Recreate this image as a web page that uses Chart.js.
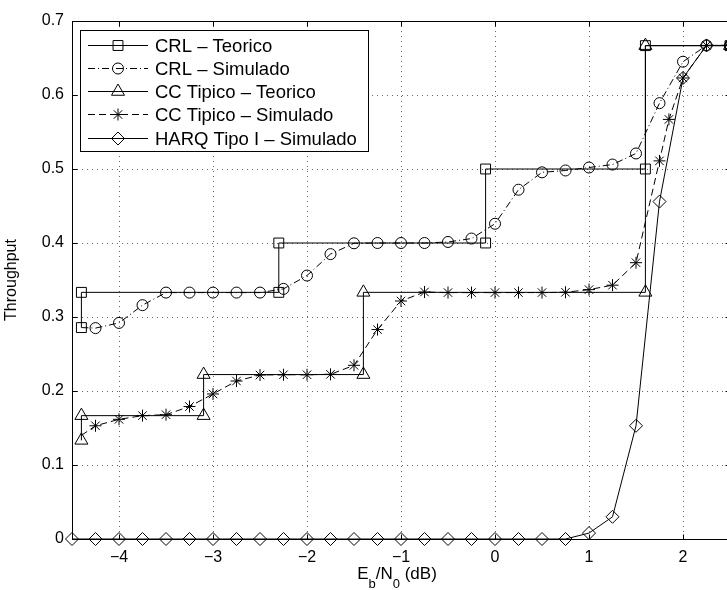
<!DOCTYPE html>
<html>
<head>
<meta charset="utf-8">
<script src="https://cdn.jsdelivr.net/npm/chart.js@4.4.1/dist/chart.umd.min.js"></script>
<style>
html, body { margin: 0; padding: 0; overflow: hidden; background: #fff; }
#wrap { width: 740px; height: 590px; }
</style>
</head>
<body>
<div id="wrap"><canvas id="chart" width="740" height="590"></canvas></div>
<script>
// Datos
const crlTeoX = [-4.4, -4.4, -2.3, -2.3, -0.1, -0.1, 1.6, 1.6, 2.5];
const crlTeoY = [0.2857, 0.3333, 0.3333, 0.4, 0.4, 0.5, 0.5, 0.6667, 0.6667];

const ccTeoX = [-4.4, -4.4, -3.1, -3.1, -1.4, -1.4, 1.6, 1.6, 2.5];
const ccTeoY = [0.1333, 0.1667, 0.1667, 0.2222, 0.2222, 0.3333, 0.3333, 0.6667, 0.6667];

const crlSimX = [-4.4, -4.25, -4.0, -3.75, -3.5, -3.25, -3.0, -2.75, -2.5, -2.25, -2.0, -1.75, -1.5, -1.25,
  -1.0, -0.75, -0.5, -0.25, 0, 0.25, 0.5, 0.75, 1.0, 1.25, 1.5, 1.75, 2.0, 2.25, 2.5];
const crlSimY = [0.2857, 0.285, 0.292, 0.316, 0.333, 0.333, 0.333, 0.333, 0.333, 0.338, 0.356, 0.385, 0.3996, 0.4,
  0.4, 0.4, 0.4014, 0.406, 0.426, 0.472, 0.4955, 0.498, 0.502, 0.506, 0.521, 0.589, 0.645, 0.667, 0.667];

const ccSimX = [-4.4, -4.25, -4.0, -3.75, -3.5, -3.25, -3.0, -2.75, -2.5, -2.25, -2.0, -1.75, -1.5, -1.25,
  -1.0, -0.75, -0.5, -0.25, 0, 0.25, 0.5, 0.75, 1.0, 1.25, 1.5, 1.75, 1.85, 2.0, 2.25, 2.5];
const ccSimY = [0.14, 0.153, 0.1617, 0.1667, 0.168, 0.179, 0.196, 0.2135, 0.2216, 0.222, 0.222, 0.2225, 0.2347, 0.283,
  0.3216, 0.3338, 0.333, 0.333, 0.333, 0.333, 0.333, 0.3334, 0.337, 0.343, 0.3734, 0.511, 0.567, 0.623, 0.667, 0.667];

const harqX = [-4.5, -4.25, -4.0, -3.75, -3.5, -3.25, -3.0, -2.75, -2.5, -2.25, -2.0, -1.75, -1.5, -1.25,
  -1.0, -0.75, -0.5, -0.25, 0, 0.25, 0.5, 0.75, 1.0, 1.25, 1.5, 1.75, 2.0, 2.25, 2.5];
const harqY = [0, 0, 0, 0, 0, 0, 0, 0, 0, 0, 0, 0, 0, 0,
  0, 0, 0, 0, 0, 0, 0, 0, 0.008, 0.03, 0.153, 0.456, 0.623, 0.667, 0.667];

const seriesNames = ['CRL \u2013 Teorico', 'CRL \u2013 Simulado', 'CC Tipico \u2013 Teorico', 'CC Tipico \u2013 Simulado', 'HARQ Tipo I \u2013 Simulado'];
const xTickValues = [-4, -3, -2, -1, 0, 1, 2];
const yTickValues = [0, 0.1, 0.2, 0.3, 0.4, 0.5, 0.6, 0.7];

const FONT = "'Liberation Sans', Arial, Helvetica, sans-serif";

function toPoints(xs, ys) {
  return xs.map((x, i) => ({ x: x, y: ys[i] }));
}

// radio 0 en el primer punto de las curvas simuladas (queda bajo el marcador teorico)
function hideFirst(r) {
  return ctx => ctx.dataIndex === 0 ? 0 : r;
}

const datasets = [
  { label: seriesNames[0], data: toPoints(crlTeoX, crlTeoY), pointStyle: 'rect', pointRadius: 7, dash: [] },
  { label: seriesNames[1], data: toPoints(crlSimX, crlSimY), pointStyle: 'circle', pointRadius: hideFirst(5.5), legendRadius: 5.5, dash: [7, 3, 1, 3] },
  { label: seriesNames[2], data: toPoints(ccTeoX, ccTeoY), pointStyle: 'triangle', pointRadius: 7.5, dash: [] },
  { label: seriesNames[3], data: toPoints(ccSimX, ccSimY), pointStyle: 'star', pointRadius: hideFirst(6), legendRadius: 6, dash: [7, 4] },
  { label: seriesNames[4], data: toPoints(harqX, harqY), pointStyle: 'rectRot', pointRadius: 6.5, dash: [] }
].map(d => Object.assign({
  showLine: true,
  borderColor: '#000',
  borderWidth: 1,
  borderDash: d.dash,
  pointBorderColor: '#000',
  pointBackgroundColor: 'rgba(0,0,0,0)',
  pointBorderWidth: 1,
  clip: false
}, d));

// Marco, rejilla punteada y marcas hacia dentro
const framePlugin = {
  id: 'frame',
  beforeDatasetsDraw(chart) {
    const ctx = chart.ctx, a = chart.chartArea;
    const xs = chart.scales.x, ys = chart.scales.y;
    ctx.save();
    ctx.lineWidth = 1;
    ctx.strokeStyle = '#666';
    ctx.setLineDash([1, 4]);
    xTickValues.forEach(v => {
      const px = Math.round(xs.getPixelForValue(v)) + 0.5;
      ctx.beginPath(); ctx.moveTo(px, a.top); ctx.lineTo(px, a.bottom); ctx.stroke();
    });
    yTickValues.forEach(v => {
      if (v === 0 || v === 0.7) return;
      const py = Math.round(ys.getPixelForValue(v)) + 0.5;
      ctx.beginPath(); ctx.moveTo(a.left, py); ctx.lineTo(a.right, py); ctx.stroke();
    });
    ctx.setLineDash([]);
    ctx.strokeStyle = '#000';
    const L = Math.round(a.left) + 0.5, R = Math.round(a.right) + 0.5;
    const T = Math.round(a.top) + 0.5, B = Math.round(a.bottom) + 0.5;
    ctx.strokeRect(L, T, R - L, B - T);
    const tl = 5;
    xTickValues.forEach(v => {
      const px = Math.round(xs.getPixelForValue(v)) + 0.5;
      ctx.beginPath();
      ctx.moveTo(px, B); ctx.lineTo(px, B - tl);
      ctx.moveTo(px, T); ctx.lineTo(px, T + tl);
      ctx.stroke();
    });
    yTickValues.forEach(v => {
      const py = Math.round(ys.getPixelForValue(v)) + 0.5;
      ctx.beginPath();
      ctx.moveTo(L, py); ctx.lineTo(L + tl, py);
      ctx.moveTo(R, py); ctx.lineTo(R - tl, py);
      ctx.stroke();
    });
    ctx.restore();
  },
  afterDraw(chart) {
    const ctx = chart.ctx, a = chart.chartArea;
    ctx.save();
    // Leyenda
    const bx = 80.5, by = 30.5, bw = 288, bh = 121;
    ctx.fillStyle = '#fff';
    ctx.fillRect(bx, by, bw, bh);
    ctx.strokeStyle = '#000';
    ctx.lineWidth = 1;
    ctx.strokeRect(bx, by, bw, bh);
    ctx.font = '18.5px ' + FONT;
    ctx.textBaseline = 'middle';
    ctx.textAlign = 'left';
    datasets.forEach((d, i) => {
      const y = Math.round(44.5 + i * 23.3) + 0.5;
      ctx.strokeStyle = '#000';
      ctx.setLineDash(d.dash);
      ctx.beginPath(); ctx.moveTo(88, y); ctx.lineTo(148, y); ctx.stroke();
      ctx.setLineDash([]);
      ctx.fillStyle = 'rgba(0,0,0,0)';
      Chart.helpers.drawPoint(ctx, {
        pointStyle: d.pointStyle,
        radius: d.legendRadius || d.pointRadius,
        rotation: 0,
        borderWidth: 1
      }, 118, y);
      ctx.fillStyle = '#000';
      ctx.fillText(d.label, 155, y + 1);
    });
    // Titulos de ejes
    ctx.fillStyle = '#000';
    ctx.font = '16px ' + FONT;
    ctx.save();
    ctx.translate(12, (a.top + a.bottom) / 2);
    ctx.rotate(-Math.PI / 2);
    ctx.textAlign = 'center';
    ctx.textBaseline = 'middle';
    ctx.fillText('Throughput', 0, 0);
    ctx.restore();
    const parts = [['E', 0], ['b', 1], ['/N', 0], ['0', 1], [' (dB)', 0]];
    let total = 0;
    parts.forEach(p => {
      ctx.font = (p[1] ? '13px ' : '17px ') + FONT;
      total += ctx.measureText(p[0]).width;
    });
    let x = 397 - total / 2;
    ctx.textAlign = 'left';
    ctx.textBaseline = 'alphabetic';
    parts.forEach(p => {
      ctx.font = (p[1] ? '13px ' : '17px ') + FONT;
      ctx.fillText(p[0], x, p[1] ? 588 : 579);
      x += ctx.measureText(p[0]).width;
    });
    ctx.restore();
  }
};

new Chart(document.getElementById('chart'), {
  type: 'scatter',
  data: { datasets: datasets },
  options: {
    responsive: false,
    animation: false,
    layout: { padding: { left: 0, top: 21, right: 10, bottom: 0 } },
    plugins: { legend: { display: false }, tooltip: { enabled: false } },
    scales: {
      x: {
        type: 'linear',
        min: -4.5,
        max: 2.5,
        afterFit: s => { s.height = 51; },
        afterBuildTicks: s => { s.ticks = xTickValues.map(v => ({ value: v })); },
        grid: { display: false },
        border: { display: false },
        ticks: {
          padding: 1,
          color: '#000',
          font: { family: FONT, size: 16 },
          maxRotation: 0,
          autoSkip: false,
          callback: v => String(v).replace('-', '\u2212')
        }
      },
      y: {
        type: 'linear',
        min: 0,
        max: 0.7,
        afterFit: s => { s.width = 72; },
        afterBuildTicks: s => { s.ticks = yTickValues.map(v => ({ value: v })); },
        grid: { display: false },
        border: { display: false },
        ticks: {
          padding: 0,
          color: '#000',
          font: { family: FONT, size: 16 },
          autoSkip: false,
          callback: v => v === 0 ? '0' : v.toFixed(1)
        }
      }
    }
  },
  plugins: [framePlugin]
});
</script>
</body>
</html>
